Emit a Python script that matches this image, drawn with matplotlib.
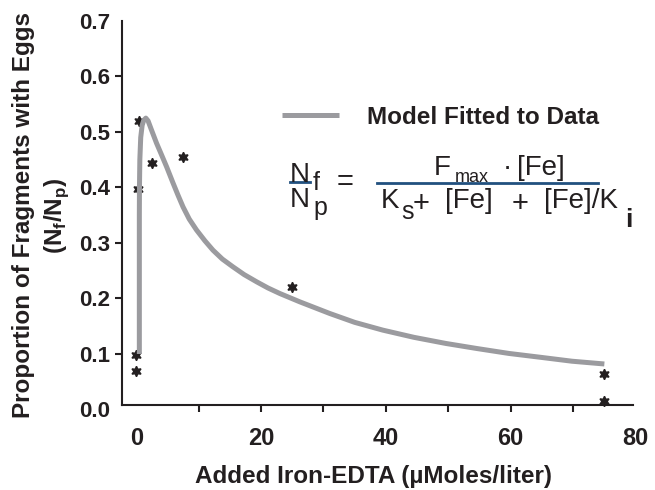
import matplotlib
matplotlib.use('Agg')
import matplotlib.pyplot as plt
from matplotlib.lines import Line2D

plt.rcParams['font.family'] = ['Liberation Sans', 'DejaVu Sans']
plt.rcParams['mathtext.fontset'] = 'custom'
plt.rcParams['mathtext.rm'] = 'Liberation Sans'
plt.rcParams['mathtext.bf'] = 'Liberation Sans:bold'

# observed proportions (stars)
obs_x = [0, 0, 0.3, 0.5, 2.5, 7.5, 25, 75, 75]
obs_y = [0.098, 0.070, 0.397, 0.520, 0.444, 0.455, 0.221, 0.064, 0.016]

# fitted model curve
curve_x = [0.5, 0.5, 0.52, 0.58, 0.72, 0.95, 1.2, 1.54, 1.9, 2.4, 3.25, 4.05, 4.86, 5.9,
           6.7, 7.5, 8.5, 9.66, 11, 12.3, 13.8, 15.5, 17.3, 19.3, 21.1, 23, 26.2, 31, 35,
           39.5, 44.5, 49.6, 54.5, 59.7, 64.8, 69.8, 75]
curve_y = [0.10, 0.35, 0.40, 0.45, 0.49, 0.512, 0.521, 0.525, 0.52, 0.505, 0.48, 0.459,
           0.4375, 0.408, 0.386, 0.365, 0.343, 0.3234, 0.304, 0.287, 0.271, 0.257, 0.243,
           0.230, 0.219, 0.209, 0.194, 0.173, 0.157, 0.143, 0.130, 0.119, 0.110, 0.101,
           0.094, 0.087, 0.082]

xticks = [0, 20, 40, 60, 80]
xminor = [10, 30, 50, 70]
yticks = [0.0, 0.1, 0.2, 0.3, 0.4, 0.5, 0.6, 0.7]

ink = '#231f20'
grey = '#9b9b9f'
blue = '#21507f'

fig = plt.figure(figsize=(6.55, 4.9), dpi=100)
ax = fig.add_axes([0.187, 0.1643, 0.7881, 0.7929])

ax.plot(obs_x, obs_y, ls='none', marker=(6, 1, 0), ms=7.5, color=ink, zorder=2)
ax.plot(curve_x, curve_y, color=grey, lw=3.6, solid_capstyle='butt',
        solid_joinstyle='round', zorder=3, label='Model Fitted to Data')

ax.set_xlim(-2.2, 80.5)
ax.set_ylim(0, 0.7)

for s in ['top', 'right']:
    ax.spines[s].set_visible(False)
ax.spines['bottom'].set_position(('data', 0.008))
ax.spines['bottom'].set_bounds(-2.2, 79.6)
ax.spines['left'].set_bounds(0.008, 0.7)
for s in ['bottom', 'left']:
    ax.spines[s].set_linewidth(1.5)
    ax.spines[s].set_color(ink)

ax.set_xticks(xticks)
ax.set_xticks(xminor, minor=True)
ax.set_xticklabels([str(v) for v in xticks], fontsize=17, fontweight='bold', color=ink)
ax.set_yticks(yticks)
ax.set_yticklabels(['%.1f' % v for v in yticks], fontsize=16, fontweight='bold', color=ink)
ax.tick_params(which='both', direction='out', length=5, width=1.5, color=ink)
ax.tick_params(axis='x', pad=11)
ax.tick_params(axis='y', pad=4)

for t in ax.xaxis.get_major_ticks():
    if t.get_loc() in (0, 80):
        t.tick1line.set_visible(False)
for t in ax.yaxis.get_major_ticks():
    if t.get_loc() in (0.0, 0.7):
        t.tick1line.set_visible(False)

ax.set_xlabel('Added Iron-EDTA (µMoles/liter)', fontsize=17.5, fontweight='bold',
              color=ink, va='center')
ax.xaxis.set_label_coords(0.487, -0.1735)
ax.set_ylabel('Proportion of Fragments with Eggs\n(N$_\\mathbf{f}$/N$_\\mathbf{p}$)',
              fontsize=17.5, fontweight='bold', color=ink, va='center', linespacing=1.38)
ax.yaxis.set_label_coords(-0.1569, 0.5)

ax.legend(loc='center left', bbox_to_anchor=(282 / 655, 1 - 117 / 490),
          bbox_transform=fig.transFigure, frameon=False, handlelength=2.35,
          handletextpad=1.15, borderpad=0, borderaxespad=0,
          prop={'weight': 'bold', 'size': 17.5}, labelcolor=ink)


# equation drawn as separate pieces
def ft(x, y, s, size=20, ha='center', **kw):
    fig.text(x / 655, 1 - y / 490, s, fontsize=size, ha=ha, va='baseline', color=ink, **kw)


def bar(x0, x1, y, lw):
    fig.add_artist(Line2D([x0 / 655, x1 / 655], [1 - y / 490, 1 - y / 490], color=blue,
                          lw=lw, transform=fig.transFigure))


ft(300, 182, 'N')
ft(313, 190, 'f', size=18, ha='left')
bar(290, 310, 182, 2.0)
ft(300, 207, 'N')
ft(313, 215, 'p', size=18, ha='left')
ft(345, 190, '=', size=21)
bar(377, 598, 183, 2.0)
ft(442, 175, 'F')
ft(455, 182, 'max', size=13, ha='left')
ft(507, 175, '·')
ft(541, 175, '[Fe]')
ft(390, 208, 'K')
ft(401, 219, 's', size=18, ha='left')
ft(421, 212, '+', size=21)
ft(469, 208, '[Fe]')
ft(520, 212, '+', size=21)
ft(581, 208, '[Fe]/K')
ft(625, 227, 'i', size=19, ha='left', fontweight='bold')

fig.savefig('out.png', dpi=100)
